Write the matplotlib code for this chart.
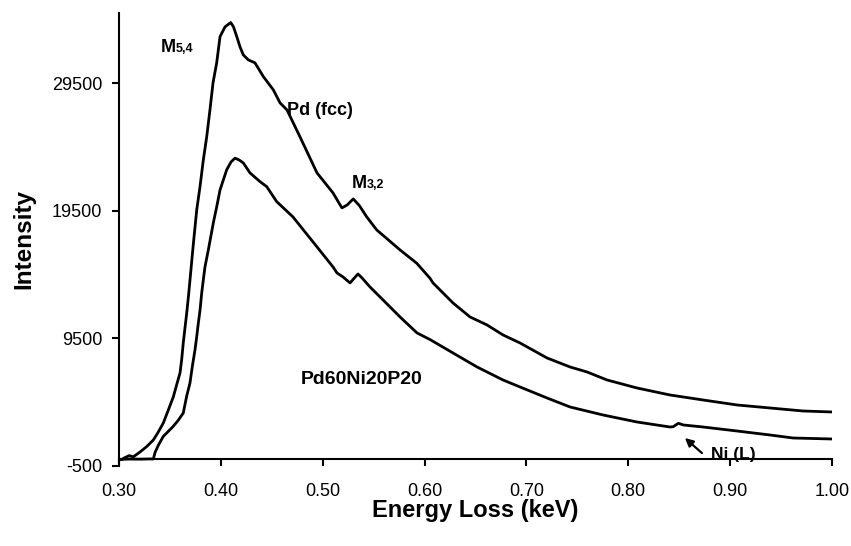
import matplotlib
matplotlib.use("Agg")
import matplotlib.pyplot as plt
from matplotlib.ticker import FormatStrFormatter

plt.rcParams['font.family'] = ['Liberation Sans', 'DejaVu Sans']
plt.rcParams['axes.unicode_minus'] = False

# ---- data ----
pd_fcc_x = [0.300, 0.3027, 0.306, 0.310, 0.314, 0.3206, 0.3271, 0.3337, 0.3386, 0.3435,
            0.3484, 0.3533, 0.3566, 0.3599, 0.3615, 0.3631, 0.3648, 0.3665, 0.3681, 0.3697,
            0.3713, 0.3729, 0.3763, 0.3795, 0.3828, 0.3861, 0.3893, 0.3923, 0.3959, 0.3992,
            0.4041, 0.4097, 0.4124, 0.4156, 0.4188, 0.4220, 0.4269, 0.4335, 0.4417, 0.4515,
            0.4581, 0.4649, 0.4777, 0.4944, 0.5101, 0.5160, 0.5189, 0.5240, 0.5300, 0.5360,
            0.5430, 0.5530, 0.5759, 0.5923, 0.6053, 0.6083, 0.6279, 0.6446, 0.6613, 0.6770,
            0.6937, 0.7202, 0.7428, 0.7595, 0.7791, 0.8085, 0.8409, 0.8733, 0.9067, 0.9391,
            0.9715, 1.000]
pd_fcc_y = [0, 0, 150, 300, 200, 582, 1000, 1523, 2150, 2857,
            3870, 4896, 5850, 6778, 7800, 9131, 10330, 11484, 12720, 14072,
            15450, 16817, 19562, 21366, 23484, 25288, 27405, 29523, 31092, 33154,
            33915, 34252, 33915, 33154, 32346, 31719, 31327, 31092, 30017, 28974,
            27954, 27405, 25288, 22464, 20896, 20100, 19719, 19950, 20425, 19900,
            19037, 17993, 16425, 15382, 14206, 13837, 12268, 11170, 10543, 9759,
            9131, 7955, 7249, 6857, 6229, 5602, 5053, 4661, 4269, 4033,
            3798, 3719]

glass_x = [0.300, 0.310, 0.320, 0.330, 0.3337, 0.3354, 0.3386, 0.3435, 0.3484, 0.3533,
           0.3582, 0.3631, 0.3664, 0.3697, 0.3720, 0.3746, 0.3763, 0.3779, 0.3796, 0.3812,
           0.3828, 0.3844, 0.3877, 0.3926, 0.3959, 0.3992, 0.4057, 0.4100, 0.4139, 0.4178,
           0.4220, 0.4286, 0.4384, 0.4450, 0.4548, 0.4708, 0.4944, 0.5101, 0.5140, 0.5199,
           0.5268, 0.5346, 0.5386, 0.5464, 0.5592, 0.5759, 0.5926, 0.6053, 0.6279, 0.6515,
           0.6770, 0.6937, 0.7202, 0.7428, 0.7752, 0.8085, 0.8409, 0.8442, 0.8491, 0.8540,
           0.8638, 0.8733, 0.9067, 0.9391, 0.9617, 1.000]
glass_y = [0, 30, 20, 40, 33, 550, 1105, 1810, 2200, 2600,
           3070, 3640, 4950, 6000, 7300, 8582, 9620, 10700, 11740, 13053,
           14090, 15092, 16425, 18543, 19798, 21131, 22700, 23327, 23617, 23484,
           23249, 22464, 21782, 21390, 20213, 19013, 16661, 15092, 14621, 14308,
           13837, 14543, 14229, 13523, 12504, 11170, 9916, 9400, 8347, 7249,
           6229, 5680, 4818, 4112, 3484, 2935, 2543, 2567, 2833, 2700,
           2621, 2543, 2229, 1916, 1680, 1602]

x_ticks = [0.30, 0.40, 0.50, 0.60, 0.70, 0.80, 0.90, 1.00]
y_ticks = [-500, 9500, 19500, 29500]

# ---- figure ----
fig = plt.figure(figsize=(8.51, 5.46), dpi=100)
ax = fig.add_axes([119 / 851, (546 - 465.8) / 546, (832 - 119) / 851, (465.8 - 13) / 546])

ax.plot(pd_fcc_x, pd_fcc_y, color='black', lw=2.0, solid_joinstyle='round')
ax.plot(glass_x, glass_y, color='black', lw=2.0, solid_joinstyle='round')

ax.set_xlim(0.30, 1.00)
ax.set_ylim(-500, 35000)

ax.spines['top'].set_visible(False)
ax.spines['right'].set_visible(False)
ax.spines['bottom'].set_position(('data', 0))
ax.spines['left'].set_linewidth(1.5)
ax.spines['bottom'].set_linewidth(1.5)

ax.set_xticks(x_ticks)
ax.set_yticks(y_ticks)
ax.xaxis.set_major_formatter(FormatStrFormatter('%.2f'))
ax.tick_params(axis='both', direction='out', length=5, width=1.5, labelsize=13)
ax.tick_params(axis='x', pad=12)
ax.tick_params(axis='y', pad=7)

ax.set_xlabel('Energy Loss (keV)', fontsize=17, fontweight='bold', labelpad=-1)
ax.set_ylabel('Intensity', fontsize=17.5, fontweight='bold', labelpad=12)

# ---- annotations ----
ax.text(0.3409, 31954, 'M', fontsize=13, fontweight='bold', ha='left', va='baseline')
ax.text(0.3560, 31954, '5,4', fontsize=9, fontweight='bold', ha='left', va='baseline')
ax.text(0.4649, 27013, 'Pd (fcc)', fontsize=13, fontweight='bold', ha='left', va='baseline')
ax.text(0.5285, 21311, 'M', fontsize=13, fontweight='bold', ha='left', va='baseline')
ax.text(0.5436, 21311, '3,2', fontsize=9, fontweight='bold', ha='left', va='baseline')
ax.text(0.4787, 5916, 'Pd60Ni20P20', fontsize=14, fontweight='bold', ha='left', va='baseline')
ax.text(0.8812, 50, 'Ni (L)', fontsize=12.5, fontweight='bold', ha='left', va='baseline')
ax.annotate('', xy=(0.8556, 1677), xytext=(0.8723, 500),
            arrowprops=dict(arrowstyle='-|>', color='black', lw=1.6,
                            mutation_scale=12, shrinkA=0, shrinkB=0))

fig.savefig('out.png', dpi=100)
